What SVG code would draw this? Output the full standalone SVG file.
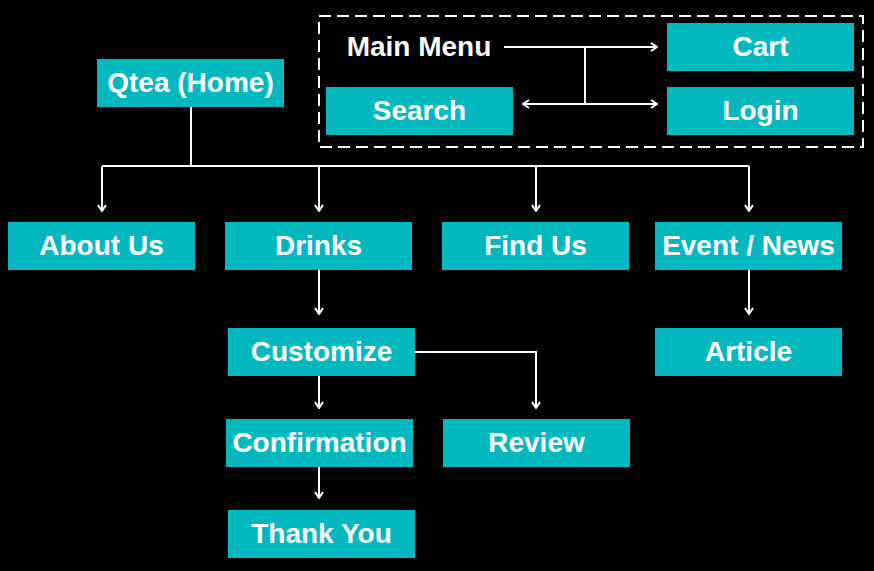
<svg xmlns="http://www.w3.org/2000/svg" width="874" height="571" viewBox="0 0 874 571">
<style>
.box{fill:#02B8BE}
.t{font-family:"Liberation Sans",Arial,sans-serif;font-weight:bold;font-size:28px;fill:#fff;text-anchor:middle}
.c{fill:none;stroke:#fff;stroke-width:2}
</style>
<defs>
<marker id="a" viewBox="0 0 10 10" refX="9" refY="5" markerWidth="10" markerHeight="10" markerUnits="userSpaceOnUse" orient="auto-start-reverse">
<path d="M3,1 L9,5 L3,9" fill="none" stroke="#fff" stroke-width="2"/>
</marker>
</defs>
<rect width="874" height="571" fill="#000"/>
<rect x="319" y="16" width="544" height="131" fill="none" stroke="#fff" stroke-width="2" stroke-dasharray="12,6"/>
<g id="connectors">
<path class="c" d="M504,47 H657" marker-end="url(#a)"/>
<path class="c" d="M585,47 V104"/>
<path class="c" d="M523,104 H657" marker-start="url(#a)" marker-end="url(#a)"/>
<path class="c" d="M191,107 V166"/>
<path class="c" d="M102,166 H749"/>
<path class="c" d="M102,166 V211" marker-end="url(#a)"/>
<path class="c" d="M319,166 V211" marker-end="url(#a)"/>
<path class="c" d="M536,166 V211" marker-end="url(#a)"/>
<path class="c" d="M749,166 V211" marker-end="url(#a)"/>
<path class="c" d="M319,270 V314" marker-end="url(#a)"/>
<path class="c" d="M749,270 V314" marker-end="url(#a)"/>
<path class="c" d="M319,376 V408" marker-end="url(#a)"/>
<path class="c" d="M415,352 H536 V408" marker-end="url(#a)"/>
<path class="c" d="M319,467 V498" marker-end="url(#a)"/>
</g>
<g id="mainmenu"><text class="t" x="419" y="55.5">Main Menu</text></g>
<g id="cart"><rect class="box" x="667" y="23" width="187" height="48"/><text class="t" x="760.5" y="55.5">Cart</text></g>
<g id="search"><rect class="box" x="326" y="87" width="187" height="48"/><text class="t" x="419.5" y="119.5">Search</text></g>
<g id="login"><rect class="box" x="667" y="87" width="187" height="48"/><text class="t" x="760.5" y="119.5">Login</text></g>
<g id="home"><rect class="box" x="97" y="59" width="187" height="48"/><text class="t" x="190.5" y="91.5">Qtea (Home)</text></g>
<g id="about"><rect class="box" x="8" y="222" width="187" height="48"/><text class="t" x="101.5" y="254.5">About Us</text></g>
<g id="drinks"><rect class="box" x="225" y="222" width="187" height="48"/><text class="t" x="318.5" y="254.5">Drinks</text></g>
<g id="findus"><rect class="box" x="442" y="222" width="187" height="48"/><text class="t" x="535.5" y="254.5">Find Us</text></g>
<g id="event"><rect class="box" x="655" y="222" width="187" height="48"/><text class="t" x="748.5" y="254.5">Event / News</text></g>
<g id="article"><rect class="box" x="655" y="328" width="187" height="48"/><text class="t" x="748.5" y="360.5">Article</text></g>
<g id="customize"><rect class="box" x="228" y="328" width="187" height="48"/><text class="t" x="321.5" y="360.5">Customize</text></g>
<g id="confirmation"><rect class="box" x="226" y="419" width="187" height="48"/><text class="t" x="319.5" y="451.5">Confirmation</text></g>
<g id="review"><rect class="box" x="443" y="419" width="187" height="48"/><text class="t" x="536.5" y="451.5">Review</text></g>
<g id="thankyou"><rect class="box" x="228" y="510" width="187" height="48"/><text class="t" x="321.5" y="542.5">Thank You</text></g>
</svg>
